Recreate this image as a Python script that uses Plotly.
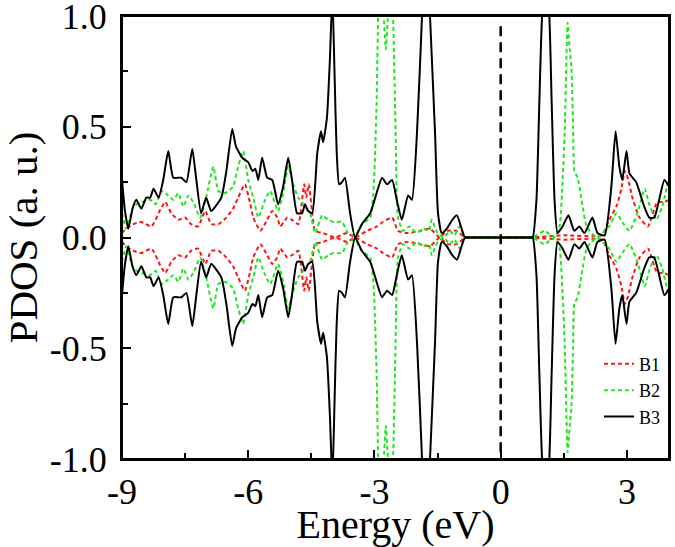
import plotly.graph_objects as go

# ---- data (spin-up PDOS; spin-down is the mirror image) ----
b3_x = [-9.0, -8.93, -8.85, -8.75, -8.66, -8.54, -8.42, -8.33, -8.25, -8.13, -8.02, -7.9, -7.78, -7.59,
        -7.47, -7.33, -7.24, -7.12, -7.0, -6.88, -6.64, -6.52, -6.38, -6.29, -6.14, -6.0, -5.9, -5.83,
        -5.76, -5.67, -5.55, -5.43, -5.29, -5.17, -5.05, -4.96, -4.84, -4.72, -4.65, -4.58, -4.48, -4.36,
        -4.27, -4.22, -4.13, -4.06, -4.0, -3.95, -3.9, -3.84, -3.77, -3.7, -3.58, -3.46, -3.3, -3.1,
        -2.95, -2.82, -2.7, -2.58, -2.47, -2.35, -2.2, -2.11, -1.99, -1.87, -1.78, -1.68, -1.56, -1.49,
        -1.4, -1.28, -1.15, -1.04, -0.93, -0.85, -0.75, -0.4, 0.0, 0.4, 0.6, 0.69, 0.76, 0.85, 0.92,
        1.0, 1.07, 1.14, 1.21, 1.28,
        1.35, 1.47, 1.61, 1.75, 1.87, 1.99, 2.18, 2.3, 2.47, 2.63, 2.73, 2.82, 2.89, 2.99, 3.06, 3.22,
        3.41, 3.53, 3.65, 3.89, 4.0]
b3_y = [0.26, 0.12, 0.04, 0.13, 0.17, 0.13, 0.18, 0.18, 0.22, 0.18, 0.26, 0.39, 0.27, 0.27,
        0.25, 0.40, 0.27, 0.11, 0.18, 0.12, 0.18, 0.30, 0.49, 0.41, 0.36, 0.34, 0.30, 0.31,
        0.26, 0.36, 0.27, 0.26, 0.15, 0.23, 0.36, 0.26, 0.11, 0.11, 0.15, 0.12, 0.11, 0.38,
        0.48, 0.43, 0.54, 0.80, 1.10, 0.75, 0.40, 0.24, 0.25, 0.27, 0.11, 0.0, 0.06, 0.11,
        0.20, 0.27, 0.24, 0.26, 0.17, 0.08, 0.19, 0.17, 0.47, 1.0, 1.45, 1.0, 0.47, 0.11,
        0.02, 0.04, 0.08, 0.10, 0.04, 0.0, 0.0, 0.0, 0.0, 0.0, 0.0, 0.0, 0.0, 0.17, 0.62,
        1.05, 1.10, 1.05, 0.62, 0.17,
        0.02, 0.05, 0.10, 0.03, 0.05, 0.02, 0.09, 0.02, 0.01, 0.23, 0.48, 0.32, 0.26, 0.39, 0.29, 0.25,
        0.14, 0.09, 0.09, 0.26, 0.23]

b2_x = [-9.0, -8.9, -8.8, -8.73, -8.54, -8.33, -8.2, -8.06, -7.9, -7.78, -7.66, -7.54, -7.42, -7.28,
        -7.14, -7.0, -6.83, -6.71, -6.55, -6.36, -6.24, -6.12, -6.0, -5.88, -5.76, -5.62, -5.48, -5.29,
        -5.17, -5.05, -4.93, -4.81, -4.69, -4.53, -4.41, -4.24, -4.1, -3.98, -3.77, -3.63, -3.46, -3.3,
        -3.1, -3.02, -2.95, -2.91, -2.85, -2.78, -2.73, -2.68, -2.62, -2.56, -2.5, -2.44, -2.32, -2.17,
        -2.0, -1.85, -1.7, -1.64, -1.5, -1.35, -1.21, -1.1, -0.97, -0.85, -0.75, -0.4, 0.0, 0.4, 0.6,
        0.76, 1.04, 1.28, 1.4, 1.47,
        1.52, 1.59, 1.64, 1.68, 1.72, 1.75, 1.83, 1.92, 2.04, 2.16, 2.3, 2.42, 2.58, 2.75, 2.89, 3.06,
        3.25, 3.42, 3.53, 3.7, 3.84, 4.0]
b2_y = [0.11, 0.04, 0.10, 0.14, 0.16, 0.17, 0.15, 0.21, 0.19, 0.17, 0.20, 0.14, 0.19, 0.15,
        0.09, 0.18, 0.32, 0.21, 0.20, 0.23, 0.32, 0.39, 0.26, 0.18, 0.09, 0.16, 0.21, 0.12,
        0.20, 0.32, 0.24, 0.18, 0.15, 0.11, 0.02, 0.10, 0.08, 0.07, 0.07, 0.02, 0.01, 0.06,
        0.09, 0.22, 0.60, 1.0, 1.15, 1.0, 0.85, 1.0, 1.15, 1.0, 0.50, 0.09, 0.03, 0.05,
        0.02, 0.04, 0.03, 0.08, 0.02, 0.0, 0.03, 0.01, 0.05, 0.0, 0.0, 0.0, 0.0, 0.0, 0.0,
        0.0, 0.03, 0.0, 0.05, 0.25,
        0.47, 0.97, 0.85, 0.77, 0.50, 0.30, 0.27, 0.17, 0.05, 0.02, 0.0, 0.02, 0.05, 0.11, 0.07, 0.03,
        0.11, 0.22, 0.15, 0.08, 0.14, 0.27]

b1_x = [-9.0, -8.9, -8.73, -8.54, -8.3, -8.08, -7.97, -7.83, -7.66, -7.5, -7.36, -7.19, -7.02, -6.88,
        -6.71, -6.52, -6.36, -6.24, -6.08, -5.95, -5.88, -5.71, -5.55, -5.43, -5.31, -5.24, -5.07, -4.96,
        -4.81, -4.67, -4.62, -4.56, -4.48, -4.41, -4.22, -3.94, -3.65, -3.46, -3.18, -2.94, -2.8, -2.58,
        -2.44, -2.2, -1.92, -1.68, -1.45, -1.28, -1.04, -0.85, -0.75, -0.4, 0.0, 0.4, 0.6, 0.76, 1.5,
        2.4, 2.58, 2.75, 2.87, 2.95, 3.02,
        3.13, 3.3, 3.5, 3.72, 3.88, 4.0]
b1_y = [0.02, 0.04, 0.06, 0.07, 0.05, 0.13, 0.16, 0.11, 0.08, 0.09, 0.06, 0.05, 0.12, 0.06,
        0.06, 0.09, 0.13, 0.18, 0.24, 0.15, 0.09, 0.03, 0.08, 0.12, 0.09, 0.05, 0.09, 0.08,
        0.06, 0.24, 0.18, 0.24, 0.11, 0.03, 0.02, 0.0, 0.02, 0.0, 0.03, 0.05, 0.07, 0.09,
        0.03, 0.02, 0.03, 0.04, 0.0, 0.03, 0.03, 0.0, 0.0, 0.0, 0.0, 0.0, 0.0, 0.0, 0.01,
        0.01, 0.08, 0.14, 0.22, 0.30, 0.27,
        0.18, 0.09, 0.05, 0.16, 0.16, 0.17]

x_tickvals = [-9, -6, -3, 0, 3]
x_ticktext = ["-9", "-6", "-3", "0", "3"]
y_tickvals = [-1.0, -0.5, 0.0, 0.5, 1.0]
y_ticktext = ["-1.0", "-0.5", "0.0", "0.5", "1.0"]
fermi_level = 0.0

series = [
    ("B1", b1_x, b1_y, "#ff1414", "4px,3px"),
    ("B2", b2_x, b2_y, "#22e622", "4px,3px"),
    ("B3", b3_x, b3_y, "#000000", "solid"),
]

FONT = "Liberation Serif, Times New Roman, serif"
fig = go.Figure()
for name, xs, ys, color, dash in series:
    fig.add_trace(go.Scatter(x=xs, y=ys, mode="lines", name=name, legendgroup=name,
                             line=dict(color=color, width=2, dash=dash, shape="spline", smoothing=0.5)))
    fig.add_trace(go.Scatter(x=xs, y=[-v for v in ys], mode="lines", name=name, legendgroup=name,
                             showlegend=False,
                             line=dict(color=color, width=2, dash=dash, shape="spline", smoothing=0.5)))

fig.add_shape(type="line", x0=fermi_level, x1=fermi_level, y0=-0.97, y1=0.97, xref="x", yref="y",
              line=dict(color="black", width=2.5, dash="10px,6px"))
# frame around the plotting area
fig.add_shape(type="rect", x0=0, x1=1, y0=0, y1=1, xref="paper", yref="paper",
              line=dict(color="black", width=2), layer="above")

fig.update_layout(
    width=675, height=547,
    margin=dict(l=122, r=6, t=16, b=88, autoexpand=False),
    paper_bgcolor="white", plot_bgcolor="white",
    font=dict(family=FONT, color="black"),
    showlegend=True,
    legend=dict(x=0.872, y=0.256, xanchor="left", yanchor="top", bgcolor="rgba(0,0,0,0)",
                font=dict(size=18, family=FONT), tracegroupgap=0, itemwidth=30),
    xaxis=dict(range=[-9, 4], tickvals=x_tickvals, ticktext=x_ticktext, ticks="inside", ticklen=9,
               tickwidth=2, tickcolor="black", showline=True, linewidth=2, linecolor="black",
               mirror=True, showgrid=False, zeroline=False, tickfont=dict(size=36, family=FONT),
               ticklabeloverflow="allow", automargin=False,
               minor=dict(dtick=1.5, tick0=0, ticks="inside", ticklen=6, tickwidth=2, tickcolor="black"),
               title=dict(text="Energy (eV)", font=dict(size=40, family=FONT), standoff=2)),
    yaxis=dict(range=[-1, 1], tickvals=y_tickvals, ticktext=y_ticktext, ticks="inside", ticklen=9,
               tickwidth=2, tickcolor="black", showline=True, linewidth=2, linecolor="black",
               mirror=True, showgrid=False, zeroline=False, tickfont=dict(size=36, family=FONT),
               ticklabeloverflow="allow", ticklabelstandoff=6, automargin=False,
               minor=dict(dtick=0.25, tick0=0, ticks="inside", ticklen=6, tickwidth=2, tickcolor="black"),
               title=dict(text="PDOS (a. u.)", font=dict(size=41, family=FONT), standoff=20)),
)

fig.write_html("out.html", config={"displayModeBar": False},
               post_script="document.body.style.margin='0';")
